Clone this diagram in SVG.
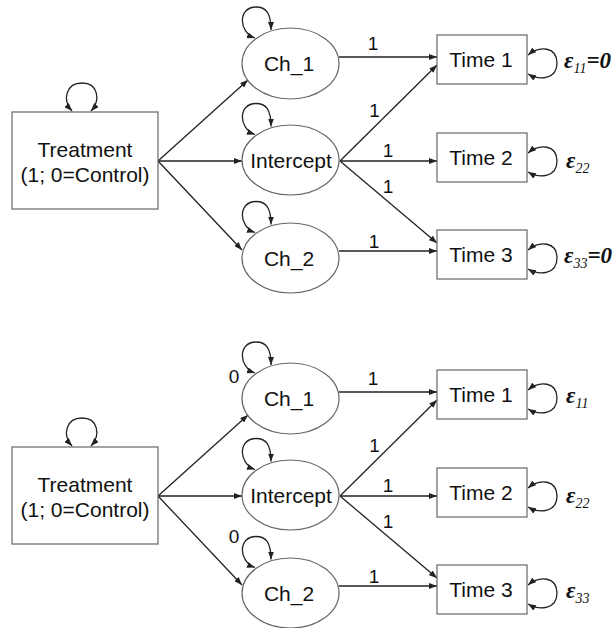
<svg xmlns="http://www.w3.org/2000/svg" xmlns:xlink="http://www.w3.org/1999/xlink" width="614" height="628" viewBox="0 0 614 628">
<style>
.box{fill:#fff;stroke:#666;stroke-width:1.2}
.ell{fill:#fff;stroke:#666;stroke-width:1.2}
.lbl{font-family:"Liberation Sans",Arial,sans-serif;font-size:21px;fill:#111;text-anchor:middle}
.num{font-family:"Liberation Sans",Arial,sans-serif;font-size:19px;fill:#111;text-anchor:middle}
.eps{font-family:"Liberation Serif","Times New Roman",serif;font-size:23px;font-style:italic;font-weight:bold;fill:#111}
.sub{font-size:14px;font-weight:normal}
.edge{fill:none;stroke:#222;stroke-width:1.3;marker-end:url(#ah)}
.loop{fill:none;stroke:#222;stroke-width:1.3;marker-start:url(#ah);marker-end:url(#ah)}
</style>
<defs>
<marker id="ah" viewBox="0 0 8 6" refX="8" refY="3" markerWidth="8" markerHeight="6" markerUnits="userSpaceOnUse" orient="auto-start-reverse">
<path d="M0,0 L8,3 L0,6 z" fill="#222"/>
</marker>
<path id="eloop" d="M -35.5 -25.5 C -52.5 -31.5, -52.5 -56.5, -34.5 -56.5 C -24.5 -56.5, -19.5 -50.5, -19.5 -33.5"/>
<path id="tloop" d="M 528 20 C 540 10, 557 12, 557 28 C 557 44, 540 46, 528 39"/>
<path id="trloop" d="M 72 111 C 62 100, 66 83, 82 83 C 98 83, 101 100, 91 111"/>
</defs>

<!-- ===== Top diagram ===== -->
<g id="connectors-top">
<use xlink:href="#trloop" class="loop"/>
<use xlink:href="#eloop" class="loop" x="290.5" y="63.5"/>
<use xlink:href="#eloop" class="loop" x="290.5" y="160"/>
<use xlink:href="#eloop" class="loop" x="290.5" y="258"/>
<use xlink:href="#tloop" class="loop" y="35"/>
<use xlink:href="#tloop" class="loop" y="133"/>
<use xlink:href="#tloop" class="loop" y="230"/>
<line class="edge" x1="158" y1="161" x2="248" y2="80"/>
<line class="edge" x1="158" y1="161" x2="242" y2="161"/>
<line class="edge" x1="158" y1="161" x2="242" y2="250"/>
<line class="edge" x1="339" y1="57" x2="437" y2="57"/>
<line class="edge" x1="340" y1="161" x2="437" y2="65"/>
<line class="edge" x1="340" y1="161" x2="437" y2="161"/>
<line class="edge" x1="340" y1="161" x2="437" y2="243"/>
<line class="edge" x1="339" y1="251" x2="437" y2="251"/>
<text class="num" x="373" y="50">1</text>
<text class="num" x="374.5" y="117">1</text>
<text class="num" x="388" y="157">1</text>
<text class="num" x="388" y="193">1</text>
<text class="num" x="374" y="248">1</text>
</g>
<g id="treatment-top">
<rect class="box" x="12" y="112" width="146" height="97"/>
<text class="lbl" x="85" y="157">Treatment</text>
<text class="lbl" x="85" y="182">(1; 0=Control)</text>
</g>
<g id="ch1-top">
<ellipse class="ell" cx="290.5" cy="63.5" rx="48.5" ry="35.5"/>
<text class="lbl" x="289" y="71">Ch_1</text>
</g>
<g id="intercept-top">
<ellipse class="ell" cx="290.5" cy="160" rx="48.5" ry="35"/>
<text class="lbl" x="291" y="168">Intercept</text>
</g>
<g id="ch2-top">
<ellipse class="ell" cx="290.5" cy="258" rx="48.5" ry="35"/>
<text class="lbl" x="289" y="266">Ch_2</text>
</g>
<g id="time1-top">
<rect class="box" x="437" y="35" width="90" height="49"/>
<text class="lbl" x="481" y="67">Time 1</text>
<text class="eps" x="564" y="68">ε<tspan class="sub" dy="5">11</tspan><tspan dy="-5">=0</tspan></text>
</g>
<g id="time2-top">
<rect class="box" x="437" y="133" width="90" height="49"/>
<text class="lbl" x="481" y="165">Time 2</text>
<text class="eps" x="566" y="168">ε<tspan class="sub" dy="5">22</tspan></text>
</g>
<g id="time3-top">
<rect class="box" x="437" y="230" width="90" height="49"/>
<text class="lbl" x="481" y="262">Time 3</text>
<text class="eps" x="564" y="263">ε<tspan class="sub" dy="5">33</tspan><tspan dy="-5">=0</tspan></text>
</g>

<!-- ===== Bottom diagram ===== -->
<g id="connectors-bottom">
<use xlink:href="#trloop" class="loop" y="335"/>
<use xlink:href="#eloop" class="loop" x="290.5" y="398.5"/>
<use xlink:href="#eloop" class="loop" x="290.5" y="495"/>
<use xlink:href="#eloop" class="loop" x="290.5" y="593"/>
<use xlink:href="#tloop" class="loop" y="370"/>
<use xlink:href="#tloop" class="loop" y="468"/>
<use xlink:href="#tloop" class="loop" y="565"/>
<line class="edge" x1="158" y1="496" x2="248" y2="415"/>
<line class="edge" x1="158" y1="496" x2="242" y2="496"/>
<line class="edge" x1="158" y1="496" x2="242" y2="585"/>
<line class="edge" x1="339" y1="392" x2="437" y2="392"/>
<line class="edge" x1="340" y1="496" x2="437" y2="400"/>
<line class="edge" x1="340" y1="496" x2="437" y2="496"/>
<line class="edge" x1="340" y1="496" x2="437" y2="578"/>
<line class="edge" x1="339" y1="586" x2="437" y2="586"/>
<text class="num" x="373" y="385">1</text>
<text class="num" x="374.5" y="452">1</text>
<text class="num" x="388" y="492">1</text>
<text class="num" x="388" y="528">1</text>
<text class="num" x="374" y="583">1</text>
<text class="num" x="234" y="383">0</text>
<text class="num" x="234" y="543">0</text>
</g>
<g id="treatment-bottom">
<rect class="box" x="12" y="447" width="146" height="97"/>
<text class="lbl" x="85" y="492">Treatment</text>
<text class="lbl" x="85" y="517">(1; 0=Control)</text>
</g>
<g id="ch1-bottom">
<ellipse class="ell" cx="290.5" cy="398.5" rx="48.5" ry="35.5"/>
<text class="lbl" x="289" y="406">Ch_1</text>
</g>
<g id="intercept-bottom">
<ellipse class="ell" cx="290.5" cy="495" rx="48.5" ry="35"/>
<text class="lbl" x="291" y="503">Intercept</text>
</g>
<g id="ch2-bottom">
<ellipse class="ell" cx="290.5" cy="593" rx="48.5" ry="35"/>
<text class="lbl" x="289" y="601">Ch_2</text>
</g>
<g id="time1-bottom">
<rect class="box" x="437" y="370" width="90" height="49"/>
<text class="lbl" x="481" y="402">Time 1</text>
<text class="eps" x="566" y="403">ε<tspan class="sub" dy="5">11</tspan></text>
</g>
<g id="time2-bottom">
<rect class="box" x="437" y="468" width="90" height="49"/>
<text class="lbl" x="481" y="500">Time 2</text>
<text class="eps" x="566" y="503">ε<tspan class="sub" dy="5">22</tspan></text>
</g>
<g id="time3-bottom">
<rect class="box" x="437" y="565" width="90" height="49"/>
<text class="lbl" x="481" y="597">Time 3</text>
<text class="eps" x="566" y="598">ε<tspan class="sub" dy="5">33</tspan></text>
</g>
</svg>
